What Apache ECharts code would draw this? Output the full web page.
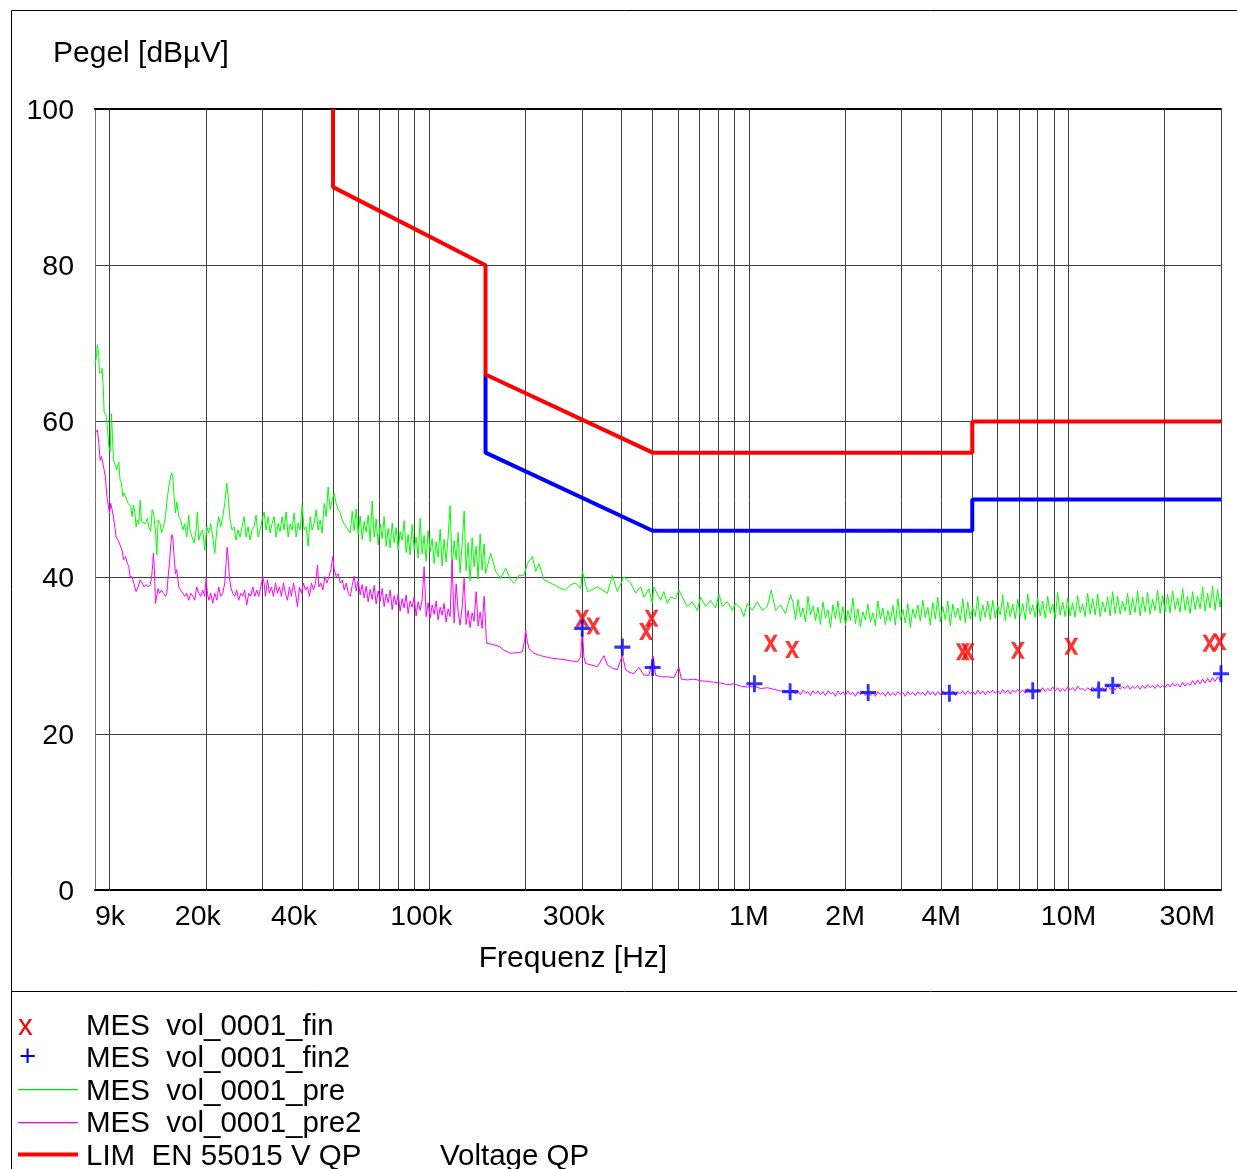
<!DOCTYPE html>
<html>
<head>
<meta charset="utf-8">
<script src="https://cdn.jsdelivr.net/npm/echarts@6/dist/echarts.min.js"></script>
<style>html,body{margin:0;padding:0;background:#fff}#c{width:1237px;height:1169px}</style>
</head>
<body>
<div id="c"></div>
<script>
// ---- axis data (frequency in kHz) ----
const xTickValues = [9, 20, 40, 100, 300, 1000, 2000, 4000, 10000, 30000];
const xTickLabels = ['9k', '20k', '40k', '100k', '300k', '1M', '2M', '4M', '10M', '30M'];
const xGridValues = [10,20,30,40,50,60,70,80,90,100,200,300,400,500,600,700,800,900,1000,2000,3000,4000,5000,6000,7000,8000,9000,10000,20000,30000];
const yTicks = [0, 20, 40, 60, 80, 100];

// ---- limit lines ----
const limQP = [[50,100],[50,90],[150,80],[150,66],[500,56],[5000,56],[5000,60],[30000,60]];
const limAV = [[150,66],[150,56],[500,46],[5000,46],[5000,50],[30000,50]];

// ---- final measurements ----
const finQP = [[301,34.8],[326,33.8],[477,33.1],[496,34.8],[1170,31.6],[1366,30.8],[4670,30.5],[4840,30.5],[6940,30.7],[10200,31.2],[27600,31.6],[29700,31.8]];
const finAV = [[301,33.5],[402,31.1],[500,28.5],[1041,26.4],[1346,25.4],[2362,25.3],[4240,25.2],[7730,25.5],[12430,25.6],[13750,26.2],[30000,27.7]];

// ---- pre scan (green), 9k - 57k ----
const preLow = [[9.0,67.4],[9.07,67.9],[9.16,69.8],[9.25,68.3],[9.29,66.2],[9.43,66.2],[9.47,66.8],[9.56,64.0],[9.61,61.2],[9.75,60.8],[9.84,59.3],[9.94,56.8],[10.04,56.1],[10.13,61.0],[10.21,61.2],[10.28,55.1],[10.40,55.3],[10.53,53.8],[10.68,54.8],[10.78,52.5],[10.89,52.1],[10.99,50.4],[11.10,50.8],[11.26,50.2],[11.42,49.5],[11.53,49.7],[11.65,49.1],[11.76,47.8],[11.87,49.3],[11.99,48.4],[12.10,46.5],[12.22,47.4],[12.34,46.9],[12.46,49.9],[12.58,47.2],[12.76,47.4],[12.94,46.9],[13.13,47.6],[13.26,46.5],[13.45,45.9],[13.58,48.7],[13.71,48.4],[13.91,46.1],[14.05,42.9],[14.18,47.4],[14.39,46.9],[14.53,45.7],[14.74,46.5],[14.95,47.8],[15.17,50.4],[15.39,52.1],[15.61,53.4],[15.76,53.0],[15.91,50.4],[16.07,48.3],[16.22,49.7],[16.46,47.8],[16.69,47.4],[16.94,46.1],[17.18,46.9],[17.43,45.2],[17.68,48.0],[17.85,46.1],[18.11,45.2],[18.37,44.4],[18.64,46.1],[18.82,48.4],[19.00,44.8],[19.28,45.7],[19.56,46.1],[19.84,43.5],[20.13,46.5],[20.42,45.7],[20.72,46.9],[21.02,45.2],[21.33,43.1],[21.64,46.1],[21.95,47.8],[22.27,46.5],[22.59,47.8],[22.92,49.5],[23.25,52.1],[23.48,50.4],[23.81,47.4],[24.16,46.1],[24.51,46.5],[24.86,44.8],[25.22,46.1],[25.59,45.2],[25.96,46.5],[26.34,47.8],[26.72,45.2],[27.11,46.5],[27.50,44.8],[27.90,46.1],[28.31,46.5],[28.72,48.0],[29.14,45.2],[29.56,46.1],[29.99,47.4],[30.43,48.4],[30.87,46.1],[31.32,47.8],[31.77,45.7],[32.23,46.9],[32.70,47.8],[33.18,45.2],[33.66,46.9],[34.15,45.9],[34.65,47.8],[35.15,46.1],[35.66,48.4],[36.18,45.2],[36.70,46.9],[37.24,46.1],[37.78,48.3],[38.33,45.2],[38.88,47.0],[39.45,46.1],[40.02,49.3],[40.60,46.1],[41.19,46.5],[41.79,44.0],[42.40,47.8],[43.01,46.1],[43.64,46.9],[44.27,48.7],[44.92,46.1],[45.57,47.4],[46.23,45.7],[46.90,49.5],[47.58,47.8],[48.27,51.6],[48.98,48.7],[49.69,49.9],[50.41,50.8],[51.14,49.5],[51.89,48.7],[52.64,48.3],[53.41,47.4],[54.18,46.9],[54.97,46.5],[55.77,46.1],[56.58,45.7]];

// ---- pre2 scan (magenta), 9k - 57k ----
const pre2Low = [[9.0,58.5],[9.07,58.7],[9.16,58.9],[9.25,57.2],[9.34,55.0],[9.43,55.5],[9.52,55.3],[9.61,53.8],[9.70,52.9],[9.79,50.6],[9.89,50.8],[9.99,48.2],[10.08,49.5],[10.18,48.7],[10.28,47.8],[10.38,46.5],[10.48,45.2],[10.63,44.8],[10.78,45.0],[10.94,43.5],[11.05,42.3],[11.21,42.7],[11.37,41.8],[11.48,41.4],[11.59,40.1],[11.76,40.1],[11.93,39.9],[12.10,38.2],[12.28,38.8],[12.46,39.7],[12.64,39.3],[12.82,38.8],[13.01,39.1],[13.20,38.8],[13.39,39.1],[13.52,39.9],[13.65,41.8],[13.71,43.1],[13.81,41.0],[13.91,36.7],[14.05,36.5],[14.18,38.6],[14.32,38.0],[14.53,38.4],[14.74,38.0],[14.95,37.6],[15.10,38.0],[15.24,40.1],[15.39,41.8],[15.54,44.4],[15.65,45.5],[15.76,45.2],[15.91,42.7],[16.07,40.5],[16.22,41.0],[16.46,38.8],[16.69,38.8],[16.94,38.0],[17.18,37.6],[17.43,38.0],[17.68,37.1],[17.94,38.0],[18.20,37.6],[18.46,37.1],[18.73,38.8],[19.00,38.0],[19.28,37.6],[19.56,38.4],[19.84,37.6],[20.03,39.9],[20.23,38.0],[20.42,37.1],[20.72,38.0],[21.02,36.7],[21.33,38.0],[21.64,37.1],[21.95,38.8],[22.27,37.6],[22.59,38.0],[22.92,39.3],[23.14,41.8],[23.31,43.9],[23.48,42.7],[23.70,40.1],[23.93,38.8],[24.27,38.0],[24.62,37.6],[24.98,38.4],[25.34,37.1],[25.71,38.0],[26.09,37.6],[26.46,38.4],[26.85,36.5],[27.24,38.0],[27.64,37.6],[28.04,38.8],[28.45,37.6],[28.86,38.4],[29.28,37.6],[29.71,38.8],[30.14,40.1],[30.43,39.3],[30.73,37.6],[31.17,39.7],[31.62,38.0],[32.08,38.8],[32.55,37.6],[33.02,39.3],[33.50,38.0],[33.99,38.8],[34.48,37.6],[34.98,39.3],[35.49,38.0],[36.01,37.1],[36.53,38.8],[37.06,37.6],[37.60,39.3],[38.15,38.0],[38.70,36.3],[39.26,38.8],[39.83,38.0],[40.41,39.3],[41.00,38.4],[41.60,38.8],[42.20,37.6],[42.81,39.3],[43.44,38.4],[44.07,39.3],[44.71,41.6],[45.14,38.8],[45.80,39.3],[46.46,38.4],[47.14,40.1],[47.83,39.3],[48.53,40.1],[49.23,41.0],[49.95,42.7],[50.44,41.0],[51.17,40.1],[51.92,40.5],[52.67,39.3],[53.44,39.7],[54.22,38.4],[55.01,39.3],[55.81,38.0],[56.62,37.6]];

// ---- 57k - 150k (shared frequencies, kHz) ----
const midFreq = [57.40,58.23,59.08,59.93,60.80,61.69,62.58,63.49,64.41,65.34,
66.29,67.25,68.23,69.22,70.22,71.24,72.27,73.32,74.38,75.46,
76.56,77.67,78.79,79.94,81.10,82.27,83.47,84.68,85.90,87.15,
88.41,89.70,91.00,92.32,93.66,95.01,96.39,97.79,99.21,100.65,
102.1,103.6,105.1,106.6,108.2,109.7,111.3,112.9,114.6,116.2,
117.9,119.6,121.4,123.1,124.9,126.7,128.6,130.4,132.3,134.2,
136.2,138.1,140.2,142.2,144.3,146.3,148.5,150.0];
const preMid = [48.5,46.0,48.8,45.5,47.9,44.9,47.2,45.8,48.0,44.6,
49.8,45.2,47.5,44.2,46.9,45.0,47.8,44.0,46.3,43.8,
47.0,44.5,46.4,43.5,45.9,44.8,47.3,43.2,45.5,42.9,
46.8,43.6,45.2,42.5,47.6,43.0,45.4,42.1,46.0,43.3,
45.0,41.8,44.6,42.6,46.2,41.5,44.9,42.0,45.3,49.2,
41.2,44.7,42.3,45.8,40.6,44.2,48.5,40.9,44.5,39.6,
45.1,41.4,44.0,39.8,45.6,41.0,44.3,40.5];
const pre2Mid = [39.0,40.2,38.3,39.6,37.8,39.1,37.4,38.9,36.9,38.5,
37.2,39.0,36.6,38.3,37.0,38.6,36.3,37.9,36.8,38.4,
35.9,37.7,36.5,37.9,35.7,37.3,36.1,37.8,35.4,37.0,
36.2,37.5,35.1,36.9,35.8,37.2,41.4,35.0,36.8,34.8,
36.5,35.3,37.0,34.6,36.2,35.2,36.7,34.3,36.0,35.0,
42.3,34.2,39.2,35.6,33.9,36.2,39.9,34.0,35.8,33.6,
35.5,34.4,38.2,33.8,35.6,33.5,37.6,34.2];

// ---- 150k - 1.35M ----
const preHigh = [[155.7,43.1],[161.4,40.8],[167.3,39.9],[173.4,41.2],[179.8,39.7],[184.1,39.3],[190.9,40.3],[197.9,40.3],[202.8,41.8],[210.2,42.7],[215.3,40.8],[220.5,41.8],[228.6,39.7],[239.9,39.3],[248,39.0],[257.7,38.6],[267,38.4],[277.0,39.1],[287,39.3],[297.6,38.6],[301.3,40.8],[312.4,38.2],[335.8,38.8],[360.8,38.0],[374.0,40.3],[387.7,38.2],[406.6,40.1],[426.7,39.3],[442.3,38.0],[458.5,38.8],[469.5,37.5],[486.7,38.6],[498.7,36.7],[504.5,38.8],[517.1,37.9],[529.5,37.1],[542.2,38.2],[555.6,36.7],[569.1,37.5],[590.0,37.3],[604.1,38.4],[626.2,37.1],[641.8,36.3],[665.3,36.9],[689.7,35.8],[706.3,37.5],[732.2,36.3],[759.0,37.1],[787.0,36.1],[805.9,37.9],[825.9,36.3],[855.9,36.9],[887.4,35.8],[908.7,36.7],[941.9,36.1],[964.7,35.0],[988.6,36.7],[1025,35.8],[1062,36.9],[1101,35.8],[1142,36.3],[1175,38.4],[1212,35.8],[1256,36.5],[1302,35.4],[1350,37.8]];
const pre2High = [[151,31.6],[159.4,31.4],[165.3,31.2],[171.3,30.7],[179.8,30.3],[188.7,30.4],[195.6,30.5],[198.9,32.0],[200.3,33.3],[202.8,31.8],[205.1,30.9],[212.7,30.3],[223.2,30.0],[239.9,29.7],[263.9,29.5],[290.6,29.2],[297.6,29.8],[301.3,33.3],[304.8,29.8],[308.6,29.0],[335.8,28.6],[352.1,30.0],[360.8,28.8],[374.0,28.4],[387.7,28.2],[401.9,30.1],[411.5,28.2],[421.6,27.9],[436.8,27.7],[452.7,28.5],[469.5,27.5],[486.7,27.5],[502.3,29.9],[510.9,27.5],[529.5,27.3],[555.6,27.3],[582.9,27.2],[604.1,28.5],[614.7,27.0],[641.8,26.9],[673.1,27.0],[706.3,26.8],[741.0,26.7],[777.4,26.6],[815.6,26.5],[855.9,26.3],[897.8,26.4],[941.9,26.1],[988.6,26.0],[1037,26.1],[1088,25.8],[1142,25.9],[1197,25.7],[1256,25.5],[1318,25.4],[1350,25.3]];

// ---- 1.35M - 30M (shared frequencies, MHz) ----
const denseMHz = [1.375,1.400,1.425,1.451,1.477,1.504,1.531,1.559,1.587,1.616,
1.645,1.675,1.705,1.736,1.768,1.800,1.832,1.866,1.900,1.934,
1.969,2.005,2.041,2.078,2.116,2.154,2.193,2.233,2.274,2.315,
2.357,2.400,2.443,2.488,2.533,2.579,2.626,2.673,2.722,2.771,
2.822,2.873,2.925,2.978,3.032,3.087,3.143,3.200,3.258,3.317,
3.378,3.439,3.501,3.565,3.630,3.695,3.763,3.831,3.900,3.971,
4.043,4.117,4.191,4.268,4.345,4.424,4.504,4.586,4.669,4.754,
4.840,4.928,5.018,5.109,5.202,5.296,5.392,5.490,5.590,5.691,
5.795,5.900,6.007,6.116,6.227,6.340,6.455,6.572,6.692,6.813,
6.937,7.063,7.191,7.321,7.454,7.590,7.727,7.868,8.011,8.156,
8.304,8.455,8.608,8.764,8.924,9.086,9.250,9.418,9.589,9.763,
9.940,10.12,10.30,10.49,10.68,10.88,11.07,11.27,11.48,11.69,
11.90,12.12,12.34,12.56,12.79,13.02,13.26,13.50,13.74,13.99,
14.25,14.51,14.77,15.04,15.31,15.59,15.87,16.16,16.45,16.75,
17.06,17.37,17.68,18.00,18.33,18.66,19.00,19.35,19.70,20.06,
20.42,20.79,21.17,21.55,21.95,22.34,22.75,23.16,23.59,24.01,
24.45,24.90,25.35,25.81,26.28,26.75,27.24,27.73,28.24,28.75,
29.27,29.80,30.00];
const preDense = [36.8,34.6,37.2,35.0,36.1,34.3,37.6,35.2,36.4,34.5,
36.2,34.0,36.9,34.8,35.9,33.6,36.5,34.7,37.0,34.2,
36.3,33.9,35.8,34.5,37.4,34.1,36.0,33.7,35.6,34.6,
36.6,34.3,35.5,33.8,37.0,34.7,36.1,34.0,35.8,34.4,
36.4,33.9,37.3,34.6,35.9,34.2,36.7,33.6,36.0,34.8,
36.5,34.4,37.1,34.9,36.2,33.9,36.8,34.7,37.5,34.3,
36.3,34.6,37.0,33.8,36.6,34.9,36.1,34.5,37.3,34.2,
36.9,34.7,36.2,35.0,37.6,34.4,36.5,34.9,37.0,34.6,
37.1,34.8,36.4,35.2,37.8,34.5,36.9,35.0,36.6,34.7,
37.2,35.0,36.7,34.6,37.9,35.3,36.5,34.9,37.4,35.1,
37.0,34.8,37.6,35.4,36.6,34.7,38.1,35.2,36.9,35.0,
37.4,35.1,36.8,34.9,37.7,35.5,36.6,35.0,38.0,35.3,
37.3,35.2,37.9,35.0,36.9,35.6,37.5,35.1,38.2,35.4,
37.6,35.3,37.0,35.7,38.0,35.2,37.4,35.5,38.3,35.1,
37.5,35.6,38.1,35.3,37.2,35.8,38.4,35.4,37.7,35.6,
37.9,35.5,38.3,35.9,37.4,35.6,38.6,35.8,37.6,35.4,
38.2,35.9,37.6,36.0,38.8,35.7,38.0,36.1,38.9,35.8,
38.5,36.2,37.4];
const pre2Dense = [25.6,25.1,25.5,25.0,25.6,25.2,25.4,24.9,25.5,25.1,
25.5,25.0,25.4,24.9,25.5,25.1,25.3,24.8,25.5,25.0,
25.4,24.9,25.5,25.0,25.3,24.8,25.4,25.0,25.5,24.9,
25.4,24.9,25.3,24.8,25.4,25.0,25.3,24.8,25.4,24.9,
25.3,24.9,25.4,25.0,25.3,24.8,25.4,25.0,25.3,24.9,
25.4,25.0,25.3,24.9,25.5,25.0,25.4,24.9,25.4,25.0,
25.5,25.0,25.4,25.1,25.5,24.9,25.4,25.1,25.5,25.0,
25.5,25.1,25.4,25.0,25.6,25.1,25.5,25.0,25.5,25.2,
25.6,25.2,25.5,25.1,25.7,25.2,25.6,25.1,25.6,25.3,
25.7,25.3,25.6,25.2,25.8,25.3,25.7,25.3,25.7,25.4,
25.9,25.4,25.8,25.5,26.0,25.5,25.9,25.4,25.8,25.5,
26.0,25.6,25.9,25.5,26.1,25.7,25.8,25.5,25.9,25.6,
26.0,25.6,26.1,25.7,25.9,25.5,26.1,25.7,26.0,25.6,
26.1,25.7,26.0,25.8,26.2,25.7,26.1,25.8,26.2,25.7,
26.2,25.8,26.3,25.9,26.2,25.8,26.3,25.9,26.2,25.9,
26.4,26.0,26.5,26.1,26.4,26.0,26.6,26.1,26.5,26.2,
26.8,26.3,26.9,26.4,27.0,26.5,27.1,26.6,27.2,26.7,
27.3,26.9,27.4];

// ---- assemble series data ----
const preData = preLow
  .concat(midFreq.map((f, i) => [f, preMid[i]]))
  .concat(preHigh)
  .concat(denseMHz.map((f, i) => [f * 1000, preDense[i]]));
const pre2Data = pre2Low
  .concat(midFreq.map((f, i) => [f, pre2Mid[i]]))
  .concat(pre2High)
  .concat(denseMHz.map((f, i) => [f * 1000, pre2Dense[i]]));

const FONT = 'Liberation Sans, Arial, sans-serif';
const labelFor = {};
xTickValues.forEach((v, i) => { labelFor[v] = xTickLabels[i]; });

const chart = echarts.init(document.getElementById('c'), null, {renderer: 'canvas'});
const X_PATH = 'path://M0,0 L2.8,0 L5,3.3 L7.2,0 L10,0 L6.4,5 L10,10 L7.2,10 L5,6.7 L2.8,10 L0,10 L3.6,5 Z';
const PLUS_PATH = 'path://M4.1,0 L5.9,0 L5.9,4.1 L10,4.1 L10,5.9 L5.9,5.9 L5.9,10 L4.1,10 L4.1,5.9 L0,5.9 L0,4.1 L4.1,4.1 Z';

const legendFont = '29.5px ' + FONT;
const option = {
  animation: false,
  backgroundColor: '#ffffff',
  textStyle: {fontFamily: FONT},
  grid: {left: 95, top: 109, width: 1126, height: 781, containLabel: false, outerBoundsMode: 'none'},
  xAxis: [{
    type: 'log', logBase: 10, min: 9, max: 30000,
    axisLine: {show: true, lineStyle: {color: '#000', width: 2}},
    axisTick: {show: true, inside: true, length: 781, customValues: xGridValues, lineStyle: {color: '#404040', width: 1}},
    splitLine: {show: false},
    minorTick: {show: false},
    axisLabel: {
      show: true, customValues: xTickValues, margin: 13, color: '#000', fontSize: 28, fontFamily: FONT,
      alignMinLabel: 'left', alignMaxLabel: 'right', hideOverlap: false, showMinLabel: true, showMaxLabel: true,
      formatter: function (v) {
        const key = Math.round(v);
        const t = labelFor[key] || '';
        if (/k$/.test(t) && key !== 9) return '{k|' + t + '}';
        if (key === 30000) return '{m|' + t + '}';
        return '{n|' + t + '}';
      },
      rich: {
        k: {fontSize: 28.5, fontFamily: FONT, color: '#000', padding: [0, 16, 0, 0]},
        m: {fontSize: 28.5, fontFamily: FONT, color: '#000', padding: [0, 6, 0, 0]},
        n: {fontSize: 28.5, fontFamily: FONT, color: '#000'}
      }
    }
  }, {
    type: 'log', logBase: 10, min: 9, max: 30000, position: 'top',
    axisLine: {show: true, lineStyle: {color: '#000', width: 2}},
    axisTick: {show: false}, axisLabel: {show: false}, splitLine: {show: false}
  }],
  yAxis: {
    type: 'value', min: yTicks[0], max: yTicks[yTicks.length - 1], interval: 20,
    axisLine: {show: true, lineStyle: {color: '#707070', width: 1}},
    axisTick: {show: false},
    axisLabel: {
      margin: 21, color: '#000', fontSize: 28.5, fontFamily: FONT,
      formatter: function (v) { return '{y|' + v + '}'; },
      rich: {y: {fontSize: 28.5, fontFamily: FONT, color: '#000', padding: [4, 0, 0, 0]}}
    },
    splitLine: {show: true, lineStyle: {color: '#404040', width: 1}}
  },
  series: [
    {name: 'MES vol_0001_pre', type: 'line', data: preData, showSymbol: false, symbol: 'none', sampling: null,
     lineStyle: {color: '#00ff00', width: 1}, z: 3},
    {name: 'MES vol_0001_pre2', type: 'line', data: pre2Data, showSymbol: false, symbol: 'none',
     lineStyle: {color: '#ff00ff', width: 1}, z: 4},
    {name: 'LIM EN 55015 V AV', type: 'line', data: limAV, showSymbol: false, symbol: 'none',
     lineStyle: {color: '#0000ff', width: 4}, z: 5},
    {name: 'LIM EN 55015 V QP', type: 'line', data: limQP, showSymbol: false, symbol: 'none',
     lineStyle: {color: '#ff0000', width: 4}, z: 6},
    {name: 'MES vol_0001_fin', type: 'scatter', data: finQP, symbol: X_PATH, symbolSize: [14, 17],
     itemStyle: {color: '#ff0000'}, z: 7},
    {name: 'MES vol_0001_fin2', type: 'scatter', data: finAV, symbol: PLUS_PATH, symbolSize: [16, 17],
     itemStyle: {color: '#0000ff'}, z: 8}
  ],
  graphic: {elements: [
    {type: 'line', shape: {x1: 11.5, y1: 10.5, x2: 1237, y2: 10.5}, style: {stroke: '#000', lineWidth: 1}, silent: true},
    {type: 'line', shape: {x1: 11.5, y1: 10.5, x2: 11.5, y2: 1169}, style: {stroke: '#000', lineWidth: 1}, silent: true},
    {type: 'line', shape: {x1: 11.5, y1: 991.5, x2: 1237, y2: 991.5}, style: {stroke: '#000', lineWidth: 1}, silent: true},
    {type: 'text', x: 53, y: 54, style: {text: 'Pegel [dBµV]', font: '30px ' + FONT, fill: '#000', verticalAlign: 'middle'}},
    {type: 'text', x: 573, y: 959, style: {text: 'Frequenz [Hz]', font: '30px ' + FONT, fill: '#000', align: 'center', verticalAlign: 'middle'}},
    {type: 'text', x: 18, y: 1027, style: {text: 'x', font: legendFont, fill: '#ff0000', verticalAlign: 'middle'}},
    {type: 'text', x: 19, y: 1058, style: {text: '+', font: legendFont, fill: '#0000ff', verticalAlign: 'middle'}},
    {type: 'rect', shape: {x: 18, y: 1089, width: 60, height: 1.3}, style: {fill: '#00e000'}},
    {type: 'rect', shape: {x: 18, y: 1122, width: 60, height: 1.3}, style: {fill: '#ff00ff'}},
    {type: 'rect', shape: {x: 18, y: 1152.5, width: 60, height: 4}, style: {fill: '#ff0000'}},
    {type: 'text', x: 86, y: 1027, style: {text: 'MES  vol_0001_fin', font: legendFont, fill: '#000', verticalAlign: 'middle'}},
    {type: 'text', x: 86, y: 1059, style: {text: 'MES  vol_0001_fin2', font: legendFont, fill: '#000', verticalAlign: 'middle'}},
    {type: 'text', x: 86, y: 1092, style: {text: 'MES  vol_0001_pre', font: legendFont, fill: '#000', verticalAlign: 'middle'}},
    {type: 'text', x: 86, y: 1124, style: {text: 'MES  vol_0001_pre2', font: legendFont, fill: '#000', verticalAlign: 'middle'}},
    {type: 'text', x: 86, y: 1157, style: {text: 'LIM  EN 55015 V QP', font: legendFont, fill: '#000', verticalAlign: 'middle'}},
    {type: 'text', x: 440, y: 1157, style: {text: 'Voltage QP', font: legendFont, fill: '#000', verticalAlign: 'middle'}}
  ]}
};
chart.setOption(option);
</script>
</body>
</html>
